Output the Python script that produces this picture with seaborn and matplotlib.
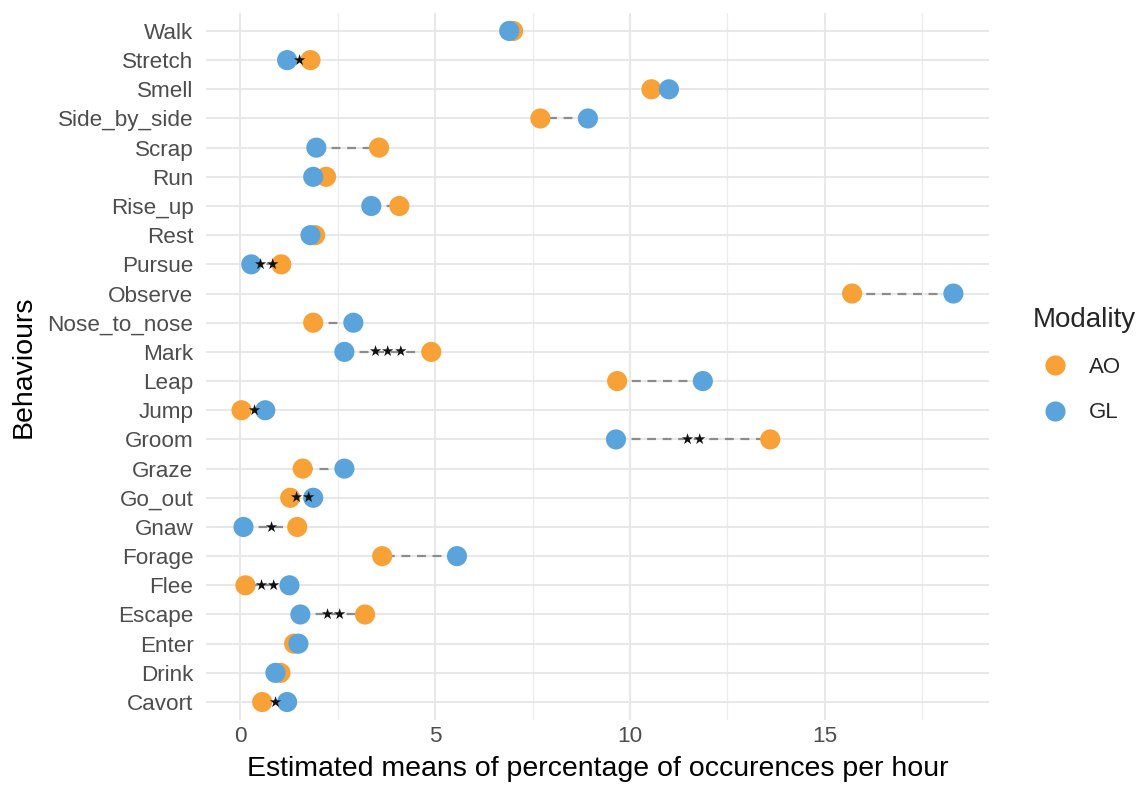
import matplotlib.pyplot as plt
import numpy as np
import pandas as pd
import seaborn as sns
from matplotlib.lines import Line2D
from matplotlib.ticker import MultipleLocator

# data, top row first
behaviours = ["Walk", "Stretch", "Smell", "Side_by_side", "Scrap", "Run", "Rise_up",
              "Rest", "Pursue", "Observe", "Nose_to_nose", "Mark", "Leap", "Jump",
              "Groom", "Graze", "Go_out", "Gnaw", "Forage", "Flee", "Escape",
              "Enter", "Drink", "Cavort"]
ao_means = [7.0, 1.8, 10.55, 7.7, 3.56, 2.2, 4.08, 1.92, 1.05, 15.7, 1.87, 4.9,
            9.67, 0.03, 13.6, 1.6, 1.28, 1.46, 3.64, 0.13, 3.2, 1.38, 1.03, 0.56]
gl_means = [6.9, 1.2, 11.0, 8.92, 1.95, 1.87, 3.36, 1.8, 0.28, 18.3, 2.9, 2.67,
            11.87, 0.64, 9.64, 2.67, 1.87, 0.08, 5.56, 1.26, 1.54, 1.49, 0.9, 1.2]
signif = ["", "★", "", "", "", "", "", "", "★★", "", "", "★★★", "", "★",
          "★★", "", "★★", "★", "", "★★", "★★", "", "", "★"]

modalities = ["AO", "GL"]
colours = {"AO": "#F7A136", "GL": "#5BA4DB"}

df = pd.DataFrame({
    "Behaviours": behaviours * 2,
    "Modality": ["AO"] * len(behaviours) + ["GL"] * len(behaviours),
    "Mean": ao_means + gl_means,
})
rows = {b: i for i, b in enumerate(behaviours)}
df["row"] = df["Behaviours"].map(rows)

sns.set_theme(style="whitegrid")
plt.rcParams["font.family"] = ["Liberation Sans", "DejaVu Sans"]

fig, ax = plt.subplots(figsize=(11.44, 7.9), dpi=100)
fig.subplots_adjust(left=0.180, right=0.8645, top=0.983, bottom=0.0892)

ypos = np.arange(len(behaviours))

# dashed link between the two modalities
ax.hlines(ypos, gl_means, ao_means, colors="#8c8c8c", linestyles=(0, (4, 3)),
          lw=1.6, zorder=2)

sns.scatterplot(data=df, x="Mean", y="row", hue="Modality", palette=colours,
                s=210, linewidth=0, alpha=1, legend=False, ax=ax, zorder=3)

for i, lab in enumerate(signif):
    if lab:
        ax.text((ao_means[i] + gl_means[i]) / 2, i, lab, ha="center", va="center",
                fontsize=10.5, color="#111111", family="DejaVu Sans", zorder=4)

# axes
lo = min(ao_means + gl_means)
hi = max(ao_means + gl_means)
pad = 0.05 * (hi - lo)
ax.set_xlim(lo - pad, hi + pad)
ax.set_ylim(len(behaviours) - 0.4, -0.6)
ax.set_yticks(ypos, behaviours)
ax.xaxis.set_major_locator(MultipleLocator(5))
ax.xaxis.set_minor_locator(MultipleLocator(2.5))

ax.grid(which="major", color="#e8e8e8", lw=1.5)
ax.grid(which="minor", axis="x", color="#ececec", lw=0.9)
ax.set_axisbelow(True)
for s in ax.spines.values():
    s.set_visible(False)

ax.tick_params(axis="both", which="both", length=0, labelsize=16.2, labelcolor="#4d4d4d")
ax.tick_params(axis="y", pad=9)
ax.tick_params(axis="x", pad=5)
ax.set_xlabel("Estimated means of percentage of occurences per hour", fontsize=20.5,
              color="black", labelpad=6)
ax.set_ylabel("Behaviours", fontsize=20.5, color="black", labelpad=8)

handles = [Line2D([], [], marker="o", ls="", markersize=14.5, markeredgewidth=0,
                  color=colours[m]) for m in modalities]
leg = ax.legend(handles, modalities, title="Modality", loc="center left",
                bbox_to_anchor=(0.903, 0.538), bbox_transform=fig.transFigure,
                frameon=False, fontsize=16, title_fontsize=20, borderpad=0,
                borderaxespad=0, handlelength=2.0, handletextpad=0.5,
                labelspacing=1.1, alignment="left")

fig.savefig("out.png", dpi=100)
